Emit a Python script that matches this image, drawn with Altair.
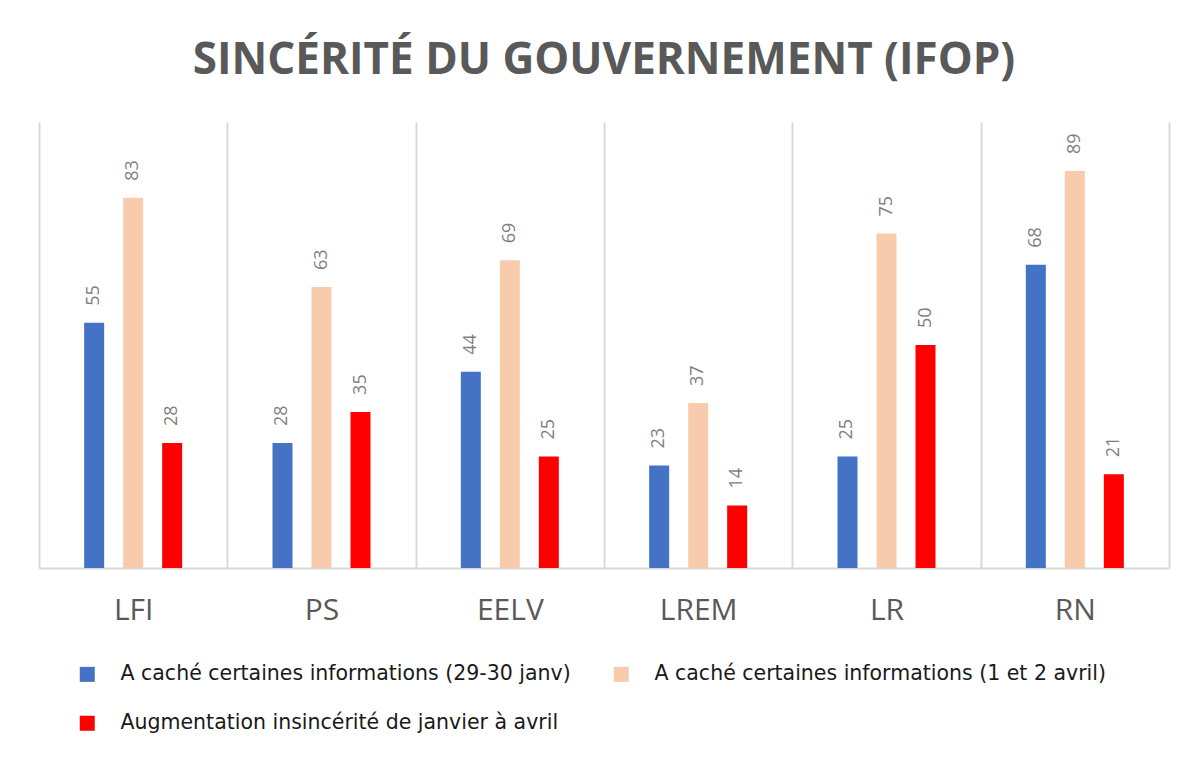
import altair as alt
import pandas as pd

parties = ["LFI", "PS", "EELV", "LREM", "LR", "RN"]
series = [
    "A caché certaines informations (29-30 janv)",
    "A caché certaines informations (1 et 2 avril)",
    "Augmentation insincérité de janvier à avril",
]
janv = [55, 28, 44, 23, 25, 68]
avril = [83, 63, 69, 37, 75, 89]
augm = [28, 35, 25, 14, 50, 21]
colors = ["#4472C4", "#F8CBAD", "#FF0000"]

rows = []
for s, vals in zip(series, [janv, avril, augm]):
    for p, v in zip(parties, vals):
        rows.append({"parti": p, "serie": s, "valeur": v})
df = pd.DataFrame(rows)

x = alt.X(
    "parti:N",
    sort=parties,
    scale=alt.Scale(paddingInner=0, paddingOuter=0),
    axis=alt.Axis(
        title=None,
        labelAngle=0,
        labelFont="Open Sans",
        labelFontSize=30,
        labelColor="#595959",
        labelPadding=27,
        ticks=False,
        tickBand="extent",
        grid=True,
        gridColor="#D9D9D9",
        gridWidth=2,
        domain=True,
        domainColor="#D9D9D9",
        domainWidth=2,
    ),
)
xoff = alt.XOffset(
    "serie:N",
    sort=series,
    scale=alt.Scale(paddingInner=0.171, paddingOuter=1),
)
y = alt.Y("valeur:Q", scale=alt.Scale(domain=[0, 100]), axis=None)

base = alt.Chart(df).encode(x=x, xOffset=xoff, y=y)

bars = base.mark_bar(width=20).encode(
    color=alt.Color(
        "serie:N",
        sort=series,
        scale=alt.Scale(domain=series, range=colors),
        legend=alt.Legend(
            title=None,
            orient="none",
            direction="horizontal",
            legendX=38,
            legendY=542,
            columns=2,
            symbolType="square",
            symbolSize=225,
            symbolStrokeWidth=0,
            labelFont="DejaVu Sans",
            labelFontSize=20.5,
            labelColor="#1A1A1A",
            labelOffset=23,
            labelLimit=700,
            columnPadding=40,
            rowPadding=28,
        ),
    )
)

labels = base.mark_text(
    angle=270,
    align="left",
    baseline="middle",
    dx=17,
    font="Open Sans",
    fontSize=18,
    color="#7F7F7F",
).encode(text="valeur:Q")

chart = (
    alt.layer(bars, labels)
    .properties(
        width=1130,
        height=446,
        padding={"left": 31, "top": 114, "right": 12, "bottom": 184},
        autosize=alt.AutoSizeParams(type="none"),
        title=alt.TitleParams(
            "SINCÉRITÉ DU GOUVERNEMENT (IFOP)",
            font="Open Sans",
            fontSize=44,
            fontWeight="bold",
            color="#595959",
            anchor="middle",
            frame="group",
            baseline="alphabetic",
            offset=4,
        ),
    )
    .configure_view(stroke=None)
)

chart.save("out.html", embed_options={"renderer": "svg", "actions": False})
